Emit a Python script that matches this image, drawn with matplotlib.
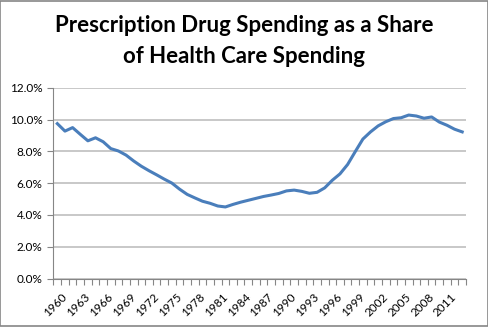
import numpy as np
import matplotlib
matplotlib.use("Agg")
import matplotlib.pyplot as plt
import matplotlib.transforms as mtransforms
from matplotlib.ticker import FuncFormatter, FixedLocator
from matplotlib.patches import Rectangle

# Prescription drug spending as share of health care spending (%), 1960-2013
years = list(range(1960, 2014))
share = [
    9.74, 9.27, 9.49, 9.07, 8.66, 8.85, 8.60, 8.17, 8.02, 7.76,
    7.39, 7.06, 6.78, 6.52, 6.25, 6.00, 5.62, 5.29, 5.07, 4.86,
    4.73, 4.56, 4.50, 4.66, 4.80, 4.92, 5.04, 5.16, 5.25, 5.35,
    5.51, 5.56, 5.48, 5.36, 5.42, 5.70, 6.18, 6.58, 7.17, 7.98,
    8.77, 9.22, 9.60, 9.86, 10.06, 10.11, 10.28, 10.22, 10.08, 10.16,
    9.84, 9.64, 9.39, 9.22,
]
label_years = list(range(1960, 2012, 3))

plt.rcParams["font.family"] = ["Lato", "DejaVu Sans"]

fig = plt.figure(figsize=(4.89, 3.27), dpi=100)
ax = fig.add_axes([0.1094, 0.1483, 0.8436, 0.5835])

x = np.arange(len(years))
ax.plot(x, share, color="#4A7EBB", lw=2.2, solid_joinstyle="round")

ax.set_xlim(-0.5, len(years) - 0.5)
ax.set_ylim(0, 12)
ax.set_yticks(np.arange(0, 13, 2))
ax.yaxis.set_major_formatter(FuncFormatter(lambda v, p: f"{v:.1f}%"))
ax.grid(axis="y", color="#BFBFBF", lw=1.2)
ax.set_axisbelow(True)

# category axis: tick marks between categories, labels every 3 years
ax.xaxis.set_major_locator(FixedLocator([years.index(y) for y in label_years]))
ax.set_xticklabels([str(y) for y in label_years], rotation=45,
                   ha="right", va="top", rotation_mode="anchor")
ax.xaxis.set_minor_locator(FixedLocator(np.arange(-0.5, len(years), 1.0)))
ax.tick_params(axis="x", which="major", length=0, pad=5, labelsize=8.5)
ax.tick_params(axis="x", which="minor", length=4, color="#868686", width=0.8)
ax.tick_params(axis="y", length=4, color="#868686", width=0.8,
               labelsize=8.5, pad=4)
shift = mtransforms.ScaledTranslation(4 / 100, -6 / 100, fig.dpi_scale_trans)
for lab in ax.get_xticklabels():
    lab.set_transform(lab.get_transform() + shift)

for side in ["top", "right"]:
    ax.spines[side].set_visible(False)
for side in ["left", "bottom"]:
    ax.spines[side].set_color("#868686")
    ax.spines[side].set_linewidth(0.8)

fig.text(0.5, 0.923, "Prescription Drug Spending as a Share",
         ha="center", va="center", fontsize=16, fontweight="bold")
fig.text(0.5, 0.826, "of Health Care Spending",
         ha="center", va="center", fontsize=16, fontweight="bold")

fig.patches.append(Rectangle((0.001, 0.002), 0.997, 0.995, transform=fig.transFigure,
                             fill=False, edgecolor="#868686", lw=1.2))

fig.savefig("out.png", dpi=100)
